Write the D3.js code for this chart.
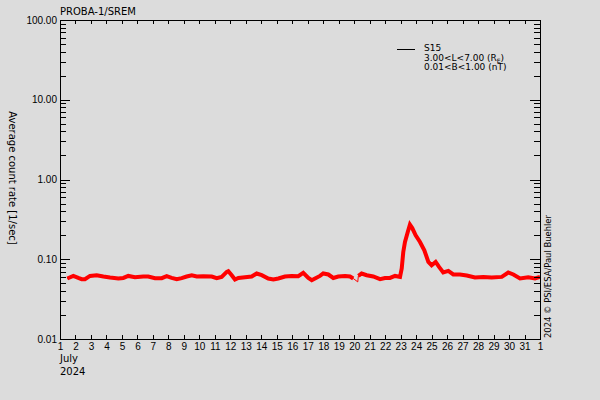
<!DOCTYPE html>
<html>
<head>
<meta charset="utf-8">
<script src="https://cdn.jsdelivr.net/npm/d3@7"></script>
<style>
  body { margin: 0; background: #dcdcdc; }
  svg { display: block; font-family: "DejaVu Sans", sans-serif; }
  .axis path, .axis line { stroke: #000; shape-rendering: crispEdges; }
  .axis text { fill: #000; font-size: 10px; }
</style>
</head>
<body>
<div id="chart"></div>
<script>
// days of July 2024 (day 32 = 1 August)
var days = [1.47,1.86,2.18,2.40,2.61,2.94,3.37,3.80,4.23,4.77,5.09,5.41,5.84,6.38,6.70,7.14,7.57,7.89,8.21,8.54,8.86,9.18,9.51,9.83,10.25,10.80,11.12,11.44,11.77,11.87,12.09,12.30,12.52,12.95,13.38,13.70,14.03,14.45,14.78,15.10,15.53,15.96,16.39,16.71,17.04,17.26,17.47,17.79,18.00,18.33,18.65,18.97,19.41,19.73,19.94,20.23,20.27,20.48,20.81,21.23,21.67,21.99,22.31,22.64,22.96,23.07,23.17,23.28,23.46,23.60,23.75,23.97,24.25,24.53,24.79,25.00,25.26,25.48,25.75,26.08,26.40,26.83,27.27,27.80,28.34,28.88,29.53,29.95,30.28,30.71,31.24,31.68,32.00];
var rates = [0.0574,0.0618,0.0583,0.0562,0.0562,0.0618,0.0631,0.0608,0.0590,0.0574,0.0583,0.0618,0.0596,0.0608,0.0608,0.0579,0.0579,0.0613,0.0583,0.0562,0.0579,0.0608,0.0631,0.0608,0.0613,0.0608,0.0579,0.0601,0.0694,0.0708,0.0631,0.0557,0.0583,0.0596,0.0608,0.0663,0.0631,0.0574,0.0557,0.0574,0.0608,0.0618,0.0613,0.0675,0.0583,0.0546,0.0574,0.0618,0.0663,0.0644,0.0583,0.0608,0.0618,0.0608,0.0574,0.0520,0.0618,0.0663,0.0631,0.0608,0.0562,0.0583,0.0583,0.0618,0.0601,0.0766,0.1234,0.1644,0.2193,0.2716,0.2460,0.1995,0.1644,0.1296,0.0925,0.0841,0.0925,0.0801,0.0682,0.0714,0.0644,0.0644,0.0626,0.0590,0.0601,0.0590,0.0601,0.0682,0.0644,0.0574,0.0596,0.0574,0.0601];
// data gap (thin connector only)
var gapStart = 19.94, gapEnd = 20.27;

var dayTicks = d3.range(1, 33);
var dayLabels = dayTicks.map(function(d) { return d > 31 ? "1" : String(d); });
var majorTicks = [0.01, 0.1, 1, 10, 100];
var legendLines = ["S15", "3.00<L<7.00 (R", "0.01<B<1.00 (nT)"];

!(function(){
    "use strict";

    var W = 600, H = 400;
    var left = 60, right = 540, top = 20, bottom = 339;
    var svg, x, y;

    main();

    function main() {
        svg = d3.select("#chart").append("svg")
            .attr("width", W).attr("height", H);
        svg.append("rect").attr("width", W).attr("height", H).attr("fill", "#dcdcdc");

        x = d3.scaleLinear().domain([1, 32]).range([left, right]);
        y = d3.scaleLog().domain([0.01, 100]).range([bottom, top]);

        drawSeries();
        drawAxes();
        drawText();
    }

    function minorTicks() {
        var out = [];
        majorTicks.slice(0, -1).forEach(function(m) {
            for (var k = 2; k <= 9; k++) out.push(m * k);
        });
        return out;
    }

    function drawAxes() {
        svg.append("g").attr("class", "axis")
            .attr("transform", "translate(0," + bottom + ")")
            .call(d3.axisBottom(x).tickValues(dayTicks)
                .tickFormat(function(d, i) { return dayLabels[i]; })
                .tickSizeInner(-4).tickSizeOuter(0).tickPadding(4));

        svg.append("g").attr("class", "axis")
            .attr("transform", "translate(0," + top + ")")
            .call(d3.axisTop(x).tickValues(dayTicks).tickFormat("")
                .tickSizeInner(-4).tickSizeOuter(0));

        svg.append("g").attr("class", "axis")
            .attr("transform", "translate(" + left + ",0)")
            .call(d3.axisLeft(y).tickValues(majorTicks).tickFormat(d3.format(".2f"))
                .tickSizeInner(-10).tickSizeOuter(0).tickPadding(3));
        svg.append("g").attr("class", "axis")
            .attr("transform", "translate(" + left + ",0)")
            .call(d3.axisLeft(y).tickValues(minorTicks()).tickFormat("")
                .tickSizeInner(-6).tickSizeOuter(0));

        svg.append("g").attr("class", "axis")
            .attr("transform", "translate(" + right + ",0)")
            .call(d3.axisRight(y).tickValues(majorTicks).tickFormat("")
                .tickSizeInner(-10).tickSizeOuter(0));
        svg.append("g").attr("class", "axis")
            .attr("transform", "translate(" + right + ",0)")
            .call(d3.axisRight(y).tickValues(minorTicks()).tickFormat("")
                .tickSizeInner(-6).tickSizeOuter(0));
    }

    function drawSeries() {
        var pts = days.map(function(d, i) { return {day: d, rate: rates[i]}; });
        var line = d3.line()
            .x(function(d) { return x(d.day); })
            .y(function(d) { return y(d.rate); });

        svg.append("path").datum(pts)
            .attr("d", line)
            .attr("fill", "none").attr("stroke", "#ff0000").attr("stroke-width", 1);

        var before = pts.filter(function(d) { return d.day <= gapStart; });
        var after = pts.filter(function(d) { return d.day >= gapEnd; });
        svg.selectAll("path.thick").data([before, after]).enter()
            .append("path").attr("class", "thick")
            .attr("d", line)
            .attr("fill", "none").attr("stroke", "#ff0000")
            .attr("stroke-width", 4).attr("stroke-linejoin", "miter");
    }

    function drawText() {
        svg.append("text").attr("x", 60).attr("y", 15)
            .attr("font-size", 10).text("PROBA-1/SREM");

        svg.append("text")
            .attr("transform", "translate(9,178) rotate(90)")
            .attr("text-anchor", "middle").attr("font-size", 10)
            .text("Average count rate [1/sec]");

        svg.append("text")
            .attr("transform", "translate(551,338) rotate(-90)")
            .attr("font-size", 9)
            .attr("textLength", 123).attr("lengthAdjust", "spacingAndGlyphs")
            .text("2024 \u00a9 PSI/ESA/Paul Buehler");

        svg.append("text").attr("x", 60).attr("y", 362).attr("font-size", 10).text("July");
        svg.append("text").attr("x", 60).attr("y", 375).attr("font-size", 10).text("2024");

        // legend
        svg.append("line").attr("x1", 397).attr("x2", 415).attr("y1", 49.5).attr("y2", 49.5)
            .attr("stroke", "#000").attr("stroke-width", 1)
            .attr("shape-rendering", "crispEdges");
        var lg = svg.append("g").attr("font-size", 9);
        lg.selectAll("text").data(legendLines).enter().append("text")
            .attr("x", 424)
            .attr("y", function(d, i) { return 51 + i * 9.5; })
            .each(function(d, i) {
                var t = d3.select(this);
                t.text(d);
                if (i === 1) {
                    t.append("tspan").attr("font-size", 6).attr("dy", 2).text("E");
                    t.append("tspan").attr("dy", -2).text(")");
                }
            });
    }

}());
</script>
</body>
</html>
